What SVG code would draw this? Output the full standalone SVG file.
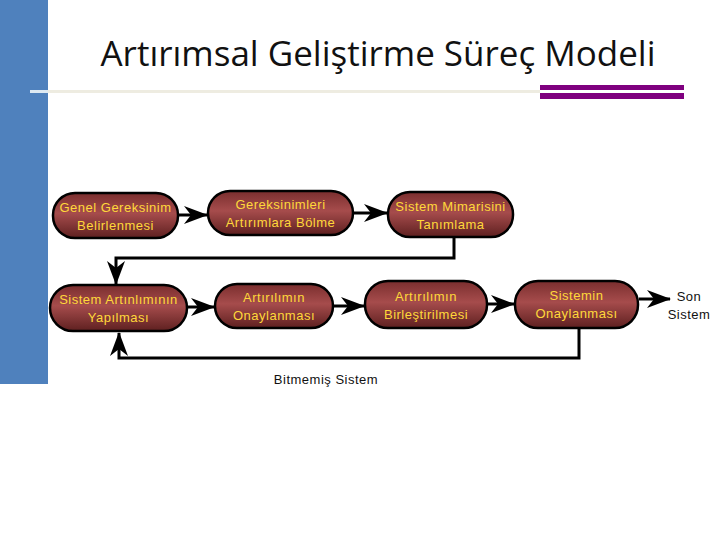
<svg xmlns="http://www.w3.org/2000/svg" width="720" height="540" viewBox="0 0 720 540">
<defs>
<linearGradient id="g" x1="0" y1="0" x2="0" y2="1">
<stop offset="0" stop-color="#7a2e2e"/>
<stop offset="0.45" stop-color="#a64c4c"/>
<stop offset="1" stop-color="#5e2020"/>
</linearGradient>
<marker id="ah" markerUnits="userSpaceOnUse" markerWidth="26" markerHeight="18" refX="23" refY="9" orient="auto">
<path d="M0,0 L24,9 L0,18 L7,9 z" fill="#000"/>
</marker>
</defs>
<style>
.node rect{fill:url(#g);stroke:#000;stroke-width:2.5}
.node text{font-family:"Liberation Sans",Arial,sans-serif;font-size:13px;letter-spacing:0.5px;fill:#ffd83a;text-anchor:middle}
.plain{font-family:"Liberation Sans",Arial,sans-serif;font-size:13px;letter-spacing:0.5px;fill:#111;text-anchor:middle}
.c path{fill:none;stroke:#000;stroke-width:3}
</style>
<rect width="720" height="540" fill="#fff"/>
<rect x="0" y="0" width="48" height="384" fill="#4f81bd"/>
<rect x="30" y="90" width="510" height="3" fill="#eeece1"/>
<rect x="30" y="90" width="18" height="3" fill="#dde9f2"/>
<rect x="540" y="85" width="144" height="5" fill="#7f007f"/>
<rect x="540" y="93" width="144" height="6" fill="#7f007f"/>
<text x="378" y="66" font-family="'Open Sans','Noto Sans',sans-serif" font-size="34" fill="#111" text-anchor="middle" textLength="555" lengthAdjust="spacingAndGlyphs">Artırımsal Geliştirme Süreç Modeli</text>

<g class="c">
<path d="M179,215 H207" marker-end="url(#ah)"/>
<path d="M354,213 H387" marker-end="url(#ah)"/>
<path d="M454,238 V258 H116 V284" marker-end="url(#ah)"/>
<path d="M188,307 H214" marker-end="url(#ah)"/>
<path d="M334,306 H364" marker-end="url(#ah)"/>
<path d="M488,304 H514" marker-end="url(#ah)"/>
<path d="M639,299 H670" marker-end="url(#ah)"/>
<path d="M579,329 V358 H119 V333" marker-end="url(#ah)"/>
</g>

<g id="n1" class="node"><rect x="53" y="193" width="125" height="45" rx="22"/><text x="115.5" y="212">Genel Gereksinim</text><text x="115.5" y="230">Belirlenmesi</text></g>
<g id="n2" class="node"><rect x="208" y="191" width="145" height="44" rx="22"/><text x="280.5" y="209">Gereksinimleri</text><text x="280.5" y="227">Artırımlara Bölme</text></g>
<g id="n3" class="node"><rect x="388" y="192" width="125" height="45" rx="22"/><text x="450.5" y="211">Sistem Mimarisini</text><text x="450.5" y="229">Tanımlama</text></g>
<g id="n4" class="node"><rect x="50" y="285" width="137" height="46" rx="23"/><text x="118.5" y="304">Sistem Artınlımının</text><text x="118.5" y="322">Yapılması</text></g>
<g id="n5" class="node"><rect x="215" y="284" width="118" height="44" rx="22"/><text x="274" y="302">Artırılımın</text><text x="274" y="320">Onaylanması</text></g>
<g id="n6" class="node"><rect x="365" y="281" width="122" height="47" rx="23"/><text x="426" y="301">Artırılımın</text><text x="426" y="319">Birleştirilmesi</text></g>
<g id="n7" class="node"><rect x="515" y="281" width="123" height="47" rx="23"/><text x="576.5" y="300">Sistemin</text><text x="576.5" y="318">Onaylanması</text></g>
<g id="son"><text class="plain" x="689" y="301">Son</text><text class="plain" x="689" y="319">Sistem</text></g>
<g id="bitmemis"><text class="plain" x="326" y="384">Bitmemiş Sistem</text></g>
</svg>
